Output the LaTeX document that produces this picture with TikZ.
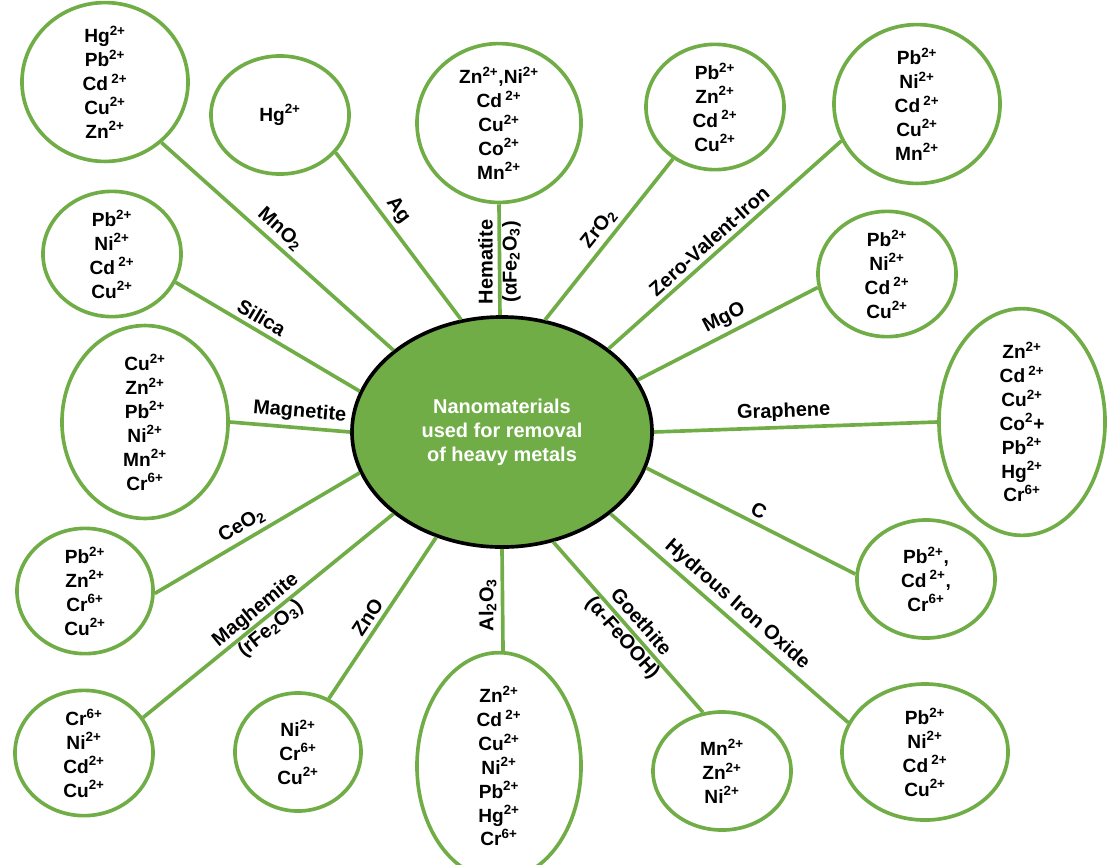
\documentclass[tikz,border=0pt]{standalone}
\usepackage{fontspec}
\setmainfont{Liberation Sans}
\usetikzlibrary{shapes.geometric}
\definecolor{leaf}{HTML}{70AD47}

\begin{document}
\begin{tikzpicture}[
          % Environment Config
          x=0.025cm, y=-0.025cm,
          font=\bfseries\fontsize{13.6pt}{17pt}\selectfont,
          Metals/.style 2 args={% Style for the ion ellipses
            draw=leaf,
            ellipse,
            line width=2.6pt,
            inner sep=0pt,
            align=center,
            minimum width={#1*0.05cm},
            minimum height={#2*0.05cm}
          },
          Hub/.style={% Style for the central ellipse
            draw=black,
            fill=leaf,
            ellipse,
            line width=2.6pt,
            text=white,
            align=center,
            inner sep=0pt,
            font=\bfseries\fontsize{14.2pt}{17pt}\selectfont,
            minimum width=7.5cm,
            minimum height=5.75cm
          },
          Link/.style={% Style for the connectors
            draw=leaf,
            line width=2.6pt
          },
          Tag/.style={% Style for the material names
            sloped,
            above,
            inner sep=3pt,
            font=\bfseries\fontsize{14.2pt}{17pt}\selectfont
          },
          Tag2/.style={% Style for the two-line material names
            align=center,
            font=\bfseries\fontsize{14.2pt}{17pt}\selectfont
          }
        ]

        \def\Ion#1#2{#1\textsuperscript{#2}}% Ion with its charge

        \useasboundingbox (0,0) rectangle (1108,864);

        % Put the central ellipse in position
        \node[Hub] (Hub) at (502,432) {Nanomaterials\\used for removal\\of heavy metals};

        % Put the ion ellipses
        %===Top row===
        \node[Metals={83}{68}] (MnO) at (105,82)
          {\Ion{Hg}{2+}\\\Ion{Pb}{2+}\\\Ion{Cd\,}{2+}\\\Ion{Cu}{2+}\\\Ion{Zn}{2+}};
        \node[Metals={69}{59}] (Ag) at (280,115) {\Ion{Hg}{2+}};
        \node[Metals={82}{68}] (Hem) at (499,123)
          {\Ion{Zn}{2+},\Ion{Ni}{2+}\\\Ion{Cd\,}{2+}\\\Ion{Cu}{2+}\\\Ion{Co}{2+}\\\Ion{Mn}{2+}};
        \node[Metals={69}{61}] (ZrO) at (715,107)
          {\Ion{Pb}{2+}\\\Ion{Zn}{2+}\\\Ion{Cd\,}{2+}\\\Ion{Cu}{2+}};
        \node[Metals={83}{68}] (ZVI) at (917,104)
          {\Ion{Pb}{2+}\\\Ion{Ni}{2+}\\\Ion{Cd\,}{2+}\\\Ion{Cu}{2+}\\\Ion{Mn}{2+}};
        %===Sides===
        \node[Metals={69}{59}] (Sil) at (112,254)
          {\Ion{Pb}{2+}\\\Ion{Ni}{2+}\\\Ion{Cd\,}{2+}\\\Ion{Cu}{2+}};
        \node[Metals={69}{59}] (MgO) at (887,274)
          {\Ion{Pb}{2+}\\\Ion{Ni}{2+}\\\Ion{Cd\,}{2+}\\\Ion{Cu}{2+}};
        \node[Metals={83}{79}] (Mag) at (145,422)
          {\Ion{Cu}{2+}\\\Ion{Zn}{2+}\\\Ion{Pb}{2+}\\\Ion{Ni}{2+}\\\Ion{Mn}{2+}\\\Ion{Cr}{6+}};
        \node[Metals={83}{89}] (Gra) at (1022,422)
          {\Ion{Zn}{2+}\\\Ion{Cd\,}{2+}\\\Ion{Cu}{2+}\\\Ion{Co}{2}+\\\Ion{Pb}{2+}\\\Ion{Hg}{2+}\\\Ion{Cr}{6+}};
        \node[Metals={68}{59}] (CeO) at (85,591)
          {\Ion{Pb}{2+}\\\Ion{Zn}{2+}\\\Ion{Cr}{6+}\\\Ion{Cu}{2+}};
        \node[Metals={69}{59}] (Car) at (926,579)
          {\Ion{Pb}{2+},\\\Ion{Cd\,}{2+},\\\Ion{Cr}{6+}};
        %===Bottom row===
        \node[Metals={69}{59}] (Mgh) at (84,753)
          {\Ion{Cr}{6+}\\\Ion{Ni}{2+}\\\Ion{Cd}{2+}\\\Ion{Cu}{2+}};
        \node[Metals={63}{59}] (ZnO) at (298,752)
          {\Ion{Ni}{2+}\\\Ion{Cr}{6+}\\\Ion{Cu}{2+}};
        \node[Metals={82}{93}] (AlO) at (499,766)
          {\Ion{Zn}{2+}\\\Ion{Cd\,}{2+}\\\Ion{Cu}{2+}\\\Ion{Ni}{2+}\\\Ion{Pb}{2+}\\\Ion{Hg}{2+}\\\Ion{Cr}{6+}};
        \node[Metals={69}{59}] (Goe) at (722,771)
          {\Ion{Mn}{2+}\\\Ion{Zn}{2+}\\\Ion{Ni}{2+}};
        \node[Metals={83}{68}] (HIO) at (925,752)
          {\Ion{Pb}{2+}\\\Ion{Ni}{2+}\\\Ion{Cd\,}{2+}\\\Ion{Cu}{2+}};

        % Draw the connectors and their names
        \draw[Link] (MnO.-47.6) -- (Hub.143)
            node[Tag, pos=0.47]{MnO\textsubscript{2}};
        \draw[Link] (Ag.-34.6) -- (Hub.110)
            node[Tag, pos=0.40]{Ag};
        \draw[Link] (Hem.-90) -- (Hub.91)
            node[Tag2, pos=0.52, rotate=90]{Hematite\\(αFe\textsubscript{2}O\textsubscript{3})};
        \draw[Link] (ZrO.231.6) -- (Hub.69)
            node[Tag, pos=0.49]{ZrO\textsubscript{2}};
        \draw[Link] (ZVI.206) -- (Hub.38.4)
            node[Tag, pos=0.53]{Zero-Valent-Iron};
        \draw[Link] (MgO.191.5) -- (Hub.21)
            node[Tag, pos=0.48]{MgO};
        \draw[Link] (Gra.180) -- (Hub.0)
            node[Tag, pos=0.54]{Graphene};
        \draw[Link] (Car.176.7) -- (Hub.-14.9)
            node[Tag, pos=0.49]{C};
        \draw[Link] (HIO.159) -- (Hub.-37.5)
            node[Tag, pos=0.51]{Hydrous Iron Oxide};
        \draw[Link] (Goe.108.7) -- (Hub.-65.1)
            node[Tag2, sloped, pos=0.48]{Goethite\\(α-FeOOH)};
        \draw[Link] (AlO.88) -- (Hub.-90)
            node[Tag2, pos=0.45, rotate=90, anchor=south, inner sep=3pt]{Al\textsubscript{2}O\textsubscript{3}};
        \draw[Link] (ZnO.60.6) -- (Hub.238.6)
            node[Tag, pos=0.46]{ZnO};
        \draw[Link] (Mgh.31.8) -- (Hub.217.3)
            node[Tag2, sloped, pos=0.48]{Maghemite\\(rFe\textsubscript{2}O\textsubscript{3})};
        \draw[Link] (CeO.-2) -- (Hub.196)
            node[Tag, pos=0.46]{CeO\textsubscript{2}};
        \draw[Link] (Mag.0) -- (Hub.180)
            node[Tag, pos=0.57]{Magnetite};
        \draw[Link] (Sil.-24.7) -- (Hub.164.3)
            node[Tag, pos=0.43]{Silica};

\end{tikzpicture}
\end{document}
